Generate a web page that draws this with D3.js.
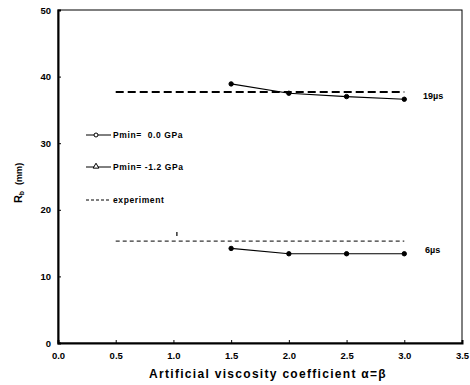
<!DOCTYPE html>
<html>
<head>
<meta charset="utf-8">
<script src="https://cdn.jsdelivr.net/npm/d3@7"></script>
<style>
  body { margin: 0; background: white; }
  text { font-family: "Liberation Sans", Arial, sans-serif; font-weight: bold; fill: #000; }
</style>
</head>
<body>
<div id="container"></div>
<script>
let w = 470;
let h = 385;

// data
let alphas = [1.5, 2.0, 2.5, 3.0];
let rb19 = [38.9, 37.5, 37.0, 36.6];
let rb6 = [14.2, 13.4, 13.4, 13.4];
let expX = [0.5, 3.0];
let exp19 = 37.7;
let exp6 = 15.3;
let xTicks = [0, 0.5, 1, 1.5, 2, 2.5, 3, 3.5];
let yTicks = [0, 10, 20, 30, 40, 50];
let legendLabels = ["Pmin=  0.0 GPa", "Pmin= -1.2 GPa", "experiment"];

let margin = {left: 58, right: 8, top: 10, bottom: 42};

let viz = d3.select("#container")
  .append("svg")
    .attr("width", w)
    .attr("height", h)
    .style("background-color", "white");

let x = d3.scaleLinear().domain([0, 3.5]).range([margin.left, w - margin.right]);
let y = d3.scaleLinear().domain([0, 50]).range([h - margin.bottom, margin.top]);

// frame
viz.append("rect")
  .attr("x", x(0)).attr("y", y(50))
  .attr("width", x(3.5) - x(0)).attr("height", y(0) - y(50))
  .attr("fill", "none").attr("stroke", "#000").attr("stroke-width", 1);

// axes
let xAxis = d3.axisBottom(x).tickValues(xTicks).tickFormat(d3.format(".1f")).tickSize(-3).tickPadding(9);
let yAxis = d3.axisLeft(y).tickValues(yTicks).tickFormat(d3.format("d")).tickSize(-3).tickPadding(7);

let gx = viz.append("g").attr("transform", "translate(0," + y(0) + ")").call(xAxis);
let gy = viz.append("g").attr("transform", "translate(" + x(0) + ",0)").call(yAxis);
[gx, gy].forEach(function(g) {
  g.select(".domain").attr("stroke-width", 2);
  g.selectAll("text").style("font-size", "9.5px").style("font-weight", "bold");
});

// axis titles
viz.append("text")
  .attr("x", 268).attr("y", 378)
  .attr("text-anchor", "middle")
  .style("font-size", "12px")
  .style("letter-spacing", "1.3px")
  .text("Artificial viscosity coefficient \u03b1=\u03b2");

let yt = viz.append("text")
  .attr("transform", "translate(22," + 183 + ") rotate(-90)")
  .attr("text-anchor", "middle")
  .style("font-size", "11px");
yt.append("tspan").text("R");
yt.append("tspan").attr("dy", 2).style("font-size", "7px").text("b");
yt.append("tspan").attr("dy", -2).attr("dx", 6).style("font-size", "9px").text("(mm)");

// experiment lines
viz.append("line")
  .attr("x1", x(expX[0])).attr("x2", x(expX[1]))
  .attr("y1", y(exp19)).attr("y2", y(exp19))
  .attr("stroke", "#000").attr("stroke-width", 2).attr("stroke-dasharray", "8,4");
viz.append("line")
  .attr("x1", x(expX[0])).attr("x2", x(expX[1]))
  .attr("y1", y(exp6)).attr("y2", y(exp6))
  .attr("stroke", "#000").attr("stroke-width", 1).attr("stroke-dasharray", "4,3");

// small mark above the 6us line
viz.append("line")
  .attr("x1", x(1.03)).attr("x2", x(1.03))
  .attr("y1", y(exp6) - 9).attr("y2", y(exp6) - 5)
  .attr("stroke", "#000").attr("stroke-width", 1.2);

// computed series
let line = d3.line().x(function(d) { return x(d[0]); }).y(function(d) { return y(d[1]); });

[rb19, rb6].forEach(function(series) {
  let pts = alphas.map(function(a, i) { return [a, series[i]]; });
  viz.append("path")
    .attr("d", line(pts))
    .attr("fill", "none").attr("stroke", "#000").attr("stroke-width", 1.2);
  viz.selectAll(null).data(pts).enter()
    .append("circle")
      .attr("cx", function(d) { return x(d[0]); })
      .attr("cy", function(d) { return y(d[1]); })
      .attr("r", 2.2)
      .attr("fill", "#000").attr("stroke", "#000").attr("stroke-width", 1);
});

// time labels
viz.append("text").attr("x", 423).attr("y", 99).style("font-size", "9px").text("19\u00b5s");
viz.append("text").attr("x", 425).attr("y", 253).style("font-size", "9px").text("6\u00b5s");

// legend
let legY = [135, 167, 200];
let lg = viz.selectAll(".leg").data(legendLabels).enter()
  .append("g").classed("leg", true)
  .attr("transform", function(d, i) { return "translate(86," + legY[i] + ")"; });

lg.append("line")
  .attr("x1", 0).attr("x2", 25).attr("y1", 0).attr("y2", 0)
  .attr("stroke", "#000").attr("stroke-width", 1)
  .attr("stroke-dasharray", function(d, i) { return i == 2 ? "3,2" : null; });

lg.filter(function(d, i) { return i == 0; }).append("circle")
  .attr("cx", 10).attr("cy", 0).attr("r", 2)
  .attr("fill", "white").attr("stroke", "#000");
lg.filter(function(d, i) { return i == 1; }).append("path")
  .attr("d", d3.symbol().type(d3.symbolTriangle).size(14))
  .attr("transform", "translate(10,-0.5)")
  .attr("fill", "white").attr("stroke", "#000");

lg.append("text")
  .attr("x", 27).attr("y", 3)
  .style("font-size", "8.5px")
  .style("letter-spacing", "0.6px")
  .style("white-space", "pre")
  .text(function(d) { return d; });
</script>
</body>
</html>
